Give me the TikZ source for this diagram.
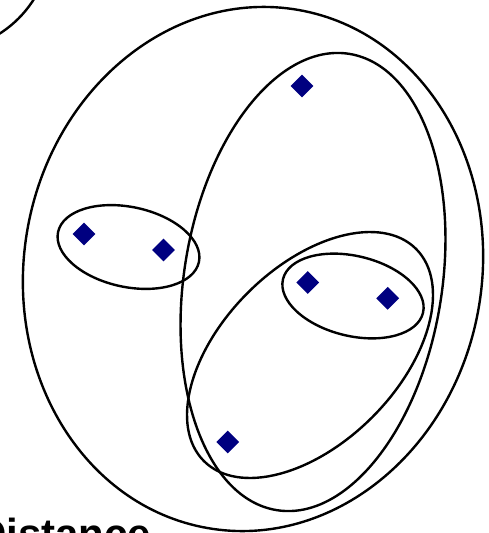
\documentclass[tikz,border=0pt]{standalone}
\usepackage{fontspec}
\setmainfont{Liberation Sans}
\usetikzlibrary{shapes.geometric}
\definecolor{navyblue}{RGB}{0,0,128}
\tikzset{
  setline/.style={draw=black, line width=2.4pt},
  point/.style={shape=diamond, fill=navyblue, draw=none, minimum size=23pt, inner sep=0pt},
}
\begin{document}
\begin{tikzpicture}[x=1pt,y=-1pt]
\useasboundingbox (0,0) rectangle (489,533);
\clip (0,0) rectangle (489,533);
% partial outer shape at top-left
\draw[setline] (-60,-60) circle [radius=111pt];
% big ellipse
\draw[setline, rotate around={-10:(253,269)}] (253,269) ellipse [x radius=229pt, y radius=263pt];
% tall ellipse
\draw[setline, rotate around={-9:(313,282)}] (313,282) ellipse [x radius=129pt, y radius=231pt];
% lower tilted ellipse
\draw[setline, rotate around={45:(310,355)}] (310,355) ellipse [x radius=150pt, y radius=88pt];
% small left ellipse
\draw[setline, rotate around={-12:(128.5,247)}] (128.5,247) ellipse [x radius=72pt, y radius=40pt];
% small right ellipse
\draw[setline, rotate around={-13.5:(353,296)}] (353,296) ellipse [x radius=72pt, y radius=40pt];
% points
\node[point] (p1) at (302,86) {};
\node[point] (p2) at (84,234) {};
\node[point] (p3) at (163.5,250) {};
\node[point] (p4) at (307.7,282.5) {};
\node[point] (p5) at (387.7,298.3) {};
\node[point] (p6) at (227.7,442) {};
% label
\node[anchor=base west, inner sep=0pt, font=\fontsize{42}{42}\selectfont\bfseries] (lbl) at (-24,548) {Distance};
\end{tikzpicture}
\end{document}
